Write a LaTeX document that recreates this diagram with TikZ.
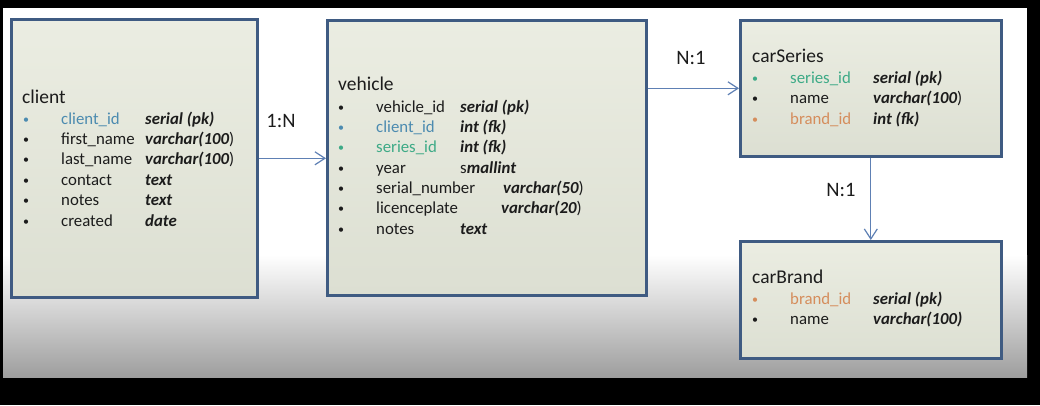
\documentclass[tikz,border=0pt]{standalone}
\usepackage{fontspec}
\setmainfont{Carlito}
\usepackage{tikz}
\usetikzlibrary{arrows.meta}
\definecolor{boxedge}{HTML}{3F5B82}
\definecolor{boxfill}{HTML}{EBEDE2}
\definecolor{boxfillb}{HTML}{DCDFD2}
\definecolor{linkcol}{HTML}{5E80B4}
\definecolor{idblue}{HTML}{4C8BB0}
\definecolor{idgreen}{HTML}{3DAA86}
\definecolor{idorange}{HTML}{D58D5C}
\definecolor{inktxt}{HTML}{1C1C1C}
\definecolor{bggrey}{HTML}{9E9E9E}
\newcommand{\plainch}[1]{{\normalfont #1}}
\tikzset{
  tablebox/.style = {draw=boxedge,line width=2.6pt,top color=boxfill,
                     bottom color=boxfillb,inner sep=0pt,anchor=north west},
  tabtitle/.style = {anchor=base west,inner sep=0pt,text=inktxt,
                     font=\fontsize{19.5}{23}\selectfont},
  rowbul/.style   = {anchor=base,inner sep=0pt,font=\fontsize{12}{14}\selectfont},
  rowname/.style  = {anchor=base west,inner sep=0pt,font=\fontsize{16.8}{20}\selectfont},
  rowtype/.style  = {anchor=base west,inner sep=0pt,text=inktxt,
                     font=\fontsize{16.8}{20}\selectfont\bfseries\itshape},
  reltxt/.style   = {inner sep=0pt,text=inktxt,font=\fontsize{20.5}{24}\selectfont},
  link/.style     = {draw=linkcol,line width=1.2pt,
                     -{Straight Barb[length=10pt,width=13pt]}}
}

\begin{document}
\begin{tikzpicture}[x=1pt,y=-1pt]
  \useasboundingbox (0,0) rectangle (1040,405);
  % screen frame and slide background
  \fill[black] (0,0) rectangle (1040,405);
  \fill[white] (3,8) rectangle (1027,377);
  \shade[top color=white,bottom color=bggrey] (3,255) rectangle (1027,377);

  % tables
  \node[tablebox,minimum width=246pt,minimum height=278pt] (client)    at (10,18)   {};
  \node[tablebox,minimum width=319pt,minimum height=275pt] (vehicle)   at (326,19)  {};
  \node[tablebox,minimum width=261pt,minimum height=136pt] (carSeries) at (739,19)  {};
  \node[tablebox,minimum width=261pt,minimum height=117pt] (carBrand)  at (739,240) {};

  % client
  \node[tabtitle] (client-t) at (22,103) {client};
  \foreach \nm/\ty/\cl [count=\i from 0] in {
      client\_id/{serial (pk)}/idblue,
      first\_name/{varchar(100\plainch{)}}/inktxt,
      last\_name/{varchar(100\plainch{)}}/inktxt,
      contact/text/inktxt,
      notes/text/inktxt,
      created/date/inktxt}{
    \node[rowbul,text=\cl]  (client-b\i) at (26,{123+20.4*\i})  {\textbullet};
    \node[rowname,text=\cl] (client-n\i) at (61,{124+20.4*\i})  {\nm};
    \node[rowtype]          (client-y\i) at (145,{124+20.4*\i}) {\ty};
  }

  % vehicle
  \node[tabtitle] (vehicle-t) at (338,90) {vehicle};
  \foreach \nm/\ty/\cl/\tx [count=\i from 0] in {
      vehicle\_id/{serial (pk)}/inktxt/460,
      client\_id/{int (fk)}/idblue/460,
      series\_id/{int (fk)}/idgreen/460,
      year/{\plainch{s}mallint}/inktxt/460,
      serial\_number/{varchar(50\plainch{)}}/inktxt/503,
      licenceplate/{varchar(20\plainch{)}}/inktxt/501,
      notes/text/inktxt/460}{
    \node[rowbul,text=\cl]  (vehicle-b\i) at (341,{111+20.35*\i}) {\textbullet};
    \node[rowname,text=\cl] (vehicle-n\i) at (376,{112+20.35*\i}) {\nm};
    \node[rowtype]          (vehicle-y\i) at (\tx,{112+20.35*\i}) {\ty};
  }

  % carSeries
  \node[tabtitle] (carSeries-t) at (752,62) {carSeries};
  \foreach \nm/\ty/\cl [count=\i from 0] in {
      series\_id/{serial (pk)}/idgreen,
      name/{varchar(100\plainch{)}}/inktxt,
      brand\_id/{int (fk)}/idorange}{
    \node[rowbul,text=\cl]  (carSeries-b\i) at (755,{82.5+20.3*\i}) {\textbullet};
    \node[rowname,text=\cl] (carSeries-n\i) at (790,{83.5+20.3*\i}) {\nm};
    \node[rowtype]          (carSeries-y\i) at (873,{83.5+20.3*\i}) {\ty};
  }

  % carBrand
  \node[tabtitle] (carBrand-t) at (752,283) {carBrand};
  \foreach \nm/\ty/\cl [count=\i from 0] in {
      brand\_id/{serial (pk)}/idorange,
      name/{varchar(100)}/inktxt}{
    \node[rowbul,text=\cl]  (carBrand-b\i) at (755,{303+20.3*\i}) {\textbullet};
    \node[rowname,text=\cl] (carBrand-n\i) at (790,{304+20.3*\i}) {\nm};
    \node[rowtype]          (carBrand-y\i) at (873,{304+20.3*\i}) {\ty};
  }

  % relations
  \draw[link] (client.east) -- (client.east -| vehicle.west);
  \draw[link] (carSeries.west -| vehicle.east) -- (carSeries.west);
  \draw[link] (carSeries.south) -- (carBrand.north);
  \node[reltxt] (rel-cv) at (281,121) {1:N};
  \node[reltxt] (rel-vs) at (691,58)  {N:1};
  \node[reltxt] (rel-sb) at (841,190) {N:1};
\end{tikzpicture}
\end{document}
